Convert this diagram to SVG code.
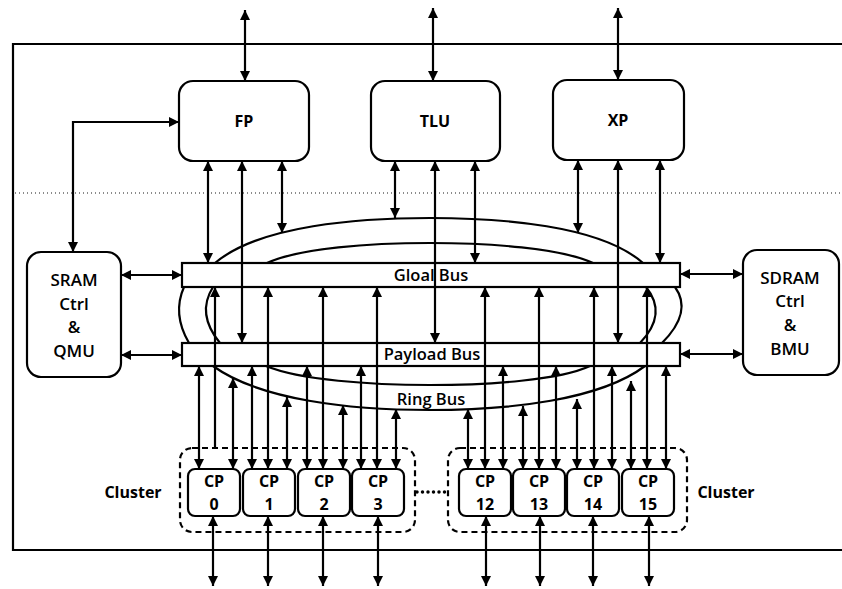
<svg xmlns="http://www.w3.org/2000/svg" width="842" height="589" viewBox="0 0 842 589">
<style>
.box{fill:#fff;stroke:#000;stroke-width:2.2}
.bus{fill:#fff;stroke:#000;stroke-width:2.2}
.ring{fill:none;stroke:#000;stroke-width:2.2}
.ln{fill:none;stroke:#000;stroke-width:2.2;marker-start:url(#ah);marker-end:url(#ah)}
.up{fill:none;stroke:#000;stroke-width:2.2;marker-end:url(#ah)}
.clu{fill:none;stroke:#000;stroke-width:2.2;stroke-dasharray:6 4}
text{font-family:"Open Sans","Noto Sans","Liberation Sans",sans-serif;fill:#000;text-anchor:middle}
.lbl{font-size:16px;font-weight:700}
.mem{font-size:17px;font-weight:600}
.bt{font-size:16.5px;font-weight:600}
.cp{font-size:16px;font-weight:700}
</style>
<defs>
<marker id="ah" viewBox="0 0 10 10" refX="10" refY="5" markerWidth="10" markerHeight="10" markerUnits="userSpaceOnUse" orient="auto-start-reverse"><path d="M0,0 L10,5 L0,10 z" fill="#000"/></marker>
</defs>
<rect width="842" height="589" fill="#fff"/>
<path d="M842,44 H13 V550 H842" fill="none" stroke="#000" stroke-width="2.2"/>
<line x1="15" y1="193" x2="842" y2="193" stroke="#666" stroke-width="1.3" stroke-dasharray="1 3"/>

<g id="ring-bus">
<path class="ring" d="M215,263 C260,225 360,218 430,218 C500,218 600,225 643,263"/>
<path class="ring" d="M267,263 C300,248 370,243 430,243 C490,243 560,248 593,263"/>
<path class="ring" d="M184,287 Q172,314 189,343"/>
<path class="ring" d="M213,287 Q196,314 220,343"/>
<path class="ring" d="M675,287 Q693,312 662,343"/>
<path class="ring" d="M646,287 Q668,314 640,343"/>
<path class="ring" d="M213,366 C260,400 350,410 430,410 C510,410 600,400 645,366"/>
<path class="ring" d="M266,366 C300,380 370,385 430,385 C490,385 560,380 590,366"/>
<text class="bt" x="431" y="405">Ring Bus</text>
</g>
<g id="global-bus"><rect class="bus" x="182" y="263" width="498" height="24"/><text class="bt" x="431" y="281">Gloal Bus</text></g>
<g id="payload-bus"><rect class="bus" x="182" y="343" width="498" height="23"/><text class="bt" x="432" y="360">Payload Bus</text></g>

<g id="connectors">
<line class="ln" x1="245" y1="10" x2="245" y2="81"/>
<line class="ln" x1="433" y1="8" x2="433" y2="81"/>
<line class="ln" x1="618" y1="8" x2="618" y2="80"/>
<path class="ln" d="M179,122 H73 V252"/>
<line class="ln" x1="208" y1="161" x2="208" y2="263"/>
<line class="ln" x1="242" y1="161" x2="242" y2="343"/>
<line class="ln" x1="282" y1="161" x2="282" y2="233"/>
<line class="ln" x1="395" y1="161" x2="395" y2="218"/>
<line class="ln" x1="435" y1="161" x2="435" y2="343"/>
<line class="ln" x1="475" y1="161" x2="475" y2="263"/>
<line class="ln" x1="578" y1="160" x2="578" y2="233"/>
<line class="ln" x1="618" y1="160" x2="618" y2="343"/>
<line class="ln" x1="660" y1="160" x2="660" y2="263"/>
<line class="ln" x1="121" y1="275" x2="182" y2="275"/>
<line class="ln" x1="121" y1="355" x2="182" y2="355"/>
<line class="ln" x1="680" y1="274" x2="743" y2="274"/>
<line class="ln" x1="680" y1="354" x2="743" y2="354"/>
<line class="up" x1="215" y1="448" x2="215" y2="287"/>
<line class="ln" x1="268" y1="469" x2="268" y2="287"/>
<line class="ln" x1="323" y1="469" x2="323" y2="287"/>
<line class="ln" x1="377" y1="469" x2="377" y2="287"/>
<line class="ln" x1="485" y1="469" x2="485" y2="287"/>
<line class="ln" x1="539" y1="469" x2="539" y2="287"/>
<line class="ln" x1="594" y1="469" x2="594" y2="287"/>
<line class="ln" x1="647" y1="469" x2="647" y2="287"/>
<line class="ln" x1="199" y1="469" x2="199" y2="366"/>
<line class="ln" x1="252" y1="469" x2="252" y2="366"/>
<line class="ln" x1="307" y1="469" x2="307" y2="366"/>
<line class="ln" x1="361" y1="469" x2="361" y2="366"/>
<line class="ln" x1="503" y1="469" x2="503" y2="366"/>
<line class="ln" x1="556" y1="469" x2="556" y2="366"/>
<line class="ln" x1="612" y1="469" x2="612" y2="366"/>
<line class="ln" x1="666" y1="469" x2="666" y2="366"/>
<line class="ln" x1="233" y1="469" x2="233" y2="378"/>
<line class="ln" x1="287" y1="469" x2="287" y2="397"/>
<line class="ln" x1="343" y1="469" x2="343" y2="405"/>
<line class="ln" x1="396" y1="469" x2="396" y2="409"/>
<line class="ln" x1="468" y1="469" x2="468" y2="409"/>
<line class="ln" x1="523" y1="469" x2="523" y2="406"/>
<line class="ln" x1="577" y1="469" x2="577" y2="399"/>
<line class="ln" x1="631" y1="469" x2="631" y2="381"/>
<line class="ln" x1="213" y1="516" x2="213" y2="586"/>
<line class="ln" x1="268" y1="516" x2="268" y2="586"/>
<line class="ln" x1="323" y1="516" x2="323" y2="586"/>
<line class="ln" x1="378" y1="516" x2="378" y2="586"/>
<line class="ln" x1="486" y1="516" x2="486" y2="586"/>
<line class="ln" x1="540" y1="516" x2="540" y2="586"/>
<line class="ln" x1="593" y1="516" x2="593" y2="586"/>
<line class="ln" x1="649" y1="516" x2="649" y2="586"/>
<line x1="417" y1="492" x2="447" y2="492" stroke="#000" stroke-width="3.5" stroke-linecap="round" stroke-dasharray="0 5.5"/>
</g>

<g id="fp"><rect class="box" x="179" y="81" width="130" height="80" rx="14"/><text class="lbl" x="244" y="127">FP</text></g>
<g id="tlu"><rect class="box" x="371" y="81" width="129" height="80" rx="14"/><text class="lbl" x="435" y="127">TLU</text></g>
<g id="xp"><rect class="box" x="553" y="80" width="131" height="80" rx="14"/><text class="lbl" x="618" y="126">XP</text></g>
<g id="sram"><rect class="box" x="27" y="252" width="94" height="125" rx="14"/>
<text class="mem" x="74" y="286">SRAM</text><text class="mem" x="74" y="310">Ctrl</text><text class="mem" x="74" y="333">&amp;</text><text class="mem" x="74" y="357">QMU</text></g>
<g id="sdram"><rect class="box" x="743" y="250" width="96" height="125" rx="14"/>
<text class="mem" x="790" y="284">SDRAM</text><text class="mem" x="790" y="307">Ctrl</text><text class="mem" x="790" y="331">&amp;</text><text class="mem" x="790" y="355">BMU</text></g>

<g id="cluster-left"><rect class="clu" x="180" y="448" width="235" height="84" rx="12"/><text class="cp" x="133" y="498">Cluster</text></g>
<g id="cluster-right"><rect class="clu" x="448" y="448" width="239" height="84" rx="12"/><text class="cp" x="726" y="498">Cluster</text></g>
<g id="cp0"><rect class="box" x="188" y="469" width="52" height="47" rx="7"/><text class="cp" x="214" y="487">CP</text><text class="cp" x="214" y="510">0</text></g>
<g id="cp1"><rect class="box" x="243" y="469" width="52" height="47" rx="7"/><text class="cp" x="269" y="487">CP</text><text class="cp" x="269" y="510">1</text></g>
<g id="cp2"><rect class="box" x="298" y="469" width="52" height="47" rx="7"/><text class="cp" x="324" y="487">CP</text><text class="cp" x="324" y="510">2</text></g>
<g id="cp3"><rect class="box" x="352" y="469" width="52" height="47" rx="7"/><text class="cp" x="378" y="487">CP</text><text class="cp" x="378" y="510">3</text></g>
<g id="cp12"><rect class="box" x="459" y="469" width="52" height="47" rx="7"/><text class="cp" x="485" y="487">CP</text><text class="cp" x="485" y="510">12</text></g>
<g id="cp13"><rect class="box" x="513" y="469" width="52" height="47" rx="7"/><text class="cp" x="539" y="487">CP</text><text class="cp" x="539" y="510">13</text></g>
<g id="cp14"><rect class="box" x="567" y="469" width="52" height="47" rx="7"/><text class="cp" x="593" y="487">CP</text><text class="cp" x="593" y="510">14</text></g>
<g id="cp15"><rect class="box" x="622" y="469" width="52" height="47" rx="7"/><text class="cp" x="648" y="487">CP</text><text class="cp" x="648" y="510">15</text></g>
</svg>
